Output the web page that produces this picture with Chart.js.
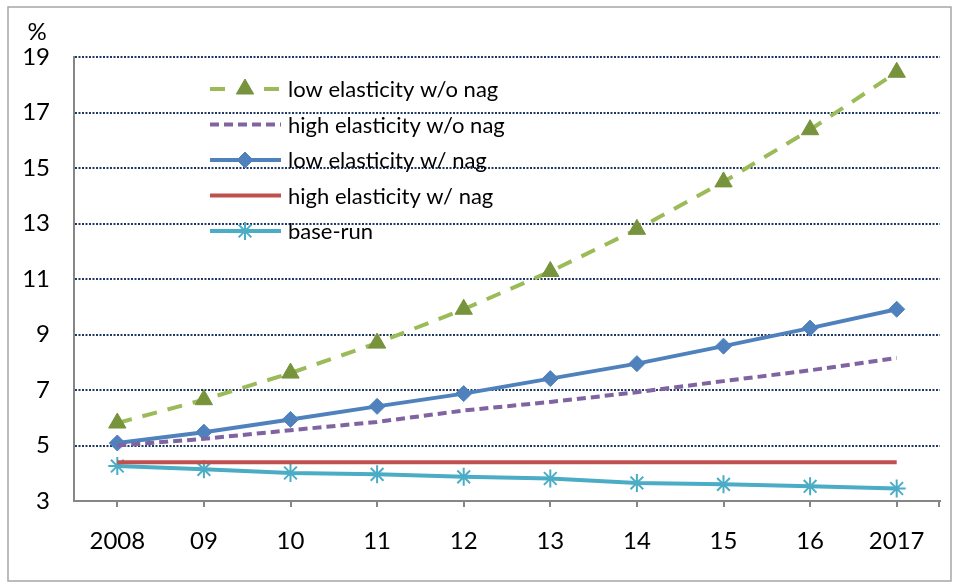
<!DOCTYPE html>
<html>
<head>
<meta charset="utf-8">
<title>Elasticity scenarios 2008-2017</title>
<script src="https://cdn.jsdelivr.net/npm/chart.js"></script>
<style>
  html, body { margin: 0; padding: 0; background: #fff; }
  .chart-box { position: relative; width: 960px; height: 584px; }
</style>
</head>
<body>
<div class="chart-box"><canvas id="elasticityChart"></canvas></div>
<script>
const years = ['2008', '09', '10', '11', '12', '13', '14', '15', '16', '2017'];
const lowElasticityNoNag  = [5.81, 6.65, 7.61, 8.69, 9.91, 11.27, 12.79, 14.50, 16.38, 18.45];
const highElasticityNoNag = [5.00, 5.24, 5.55, 5.85, 6.26, 6.57, 6.92, 7.32, 7.71, 8.15];
const lowElasticityNag    = [5.09, 5.48, 5.94, 6.41, 6.87, 7.41, 7.95, 8.58, 9.23, 9.91];
const highElasticityNag   = [4.40, 4.40, 4.40, 4.40, 4.40, 4.40, 4.40, 4.40, 4.40, 4.40];
const baseRun             = [4.26, 4.14, 4.01, 3.96, 3.87, 3.81, 3.65, 3.60, 3.53, 3.45];
const yMin = 3, yMax = 19, yStep = 2;
const unitLabel = '%';

const FONT = 'Lato, Calibri, "DejaVu Sans", sans-serif';
const AXIS_GRAY = '#868686';

// legend drawn inside the plot area, like the original
const innerLegend = {
  id: 'innerLegend',
  afterDraw(chart) {
    const ctx = chart.ctx;
    const h = Chart.helpers;
    ctx.save();
    ctx.font = '22px ' + FONT;
    ctx.textBaseline = 'middle';
    ctx.fillStyle = '#000';
    chart.data.datasets.forEach((ds, i) => {
      const y = 89 + i * 35.5;
      ctx.save();
      ctx.strokeStyle = ds.borderColor;
      ctx.lineWidth = ds.borderWidth;
      ctx.setLineDash(ds.borderDash || []);
      ctx.beginPath();
      if (ds.legendGap) {
        ctx.moveTo(210, y); ctx.lineTo(226, y);
        ctx.moveTo(264, y); ctx.lineTo(281, y);
      } else {
        ctx.moveTo(210, y); ctx.lineTo(281, y);
      }
      ctx.stroke();
      ctx.restore();
      if (ds.pointRadius > 0) {
        ctx.save();
        ctx.fillStyle = ds.pointBackgroundColor;
        ctx.strokeStyle = ds.pointBorderColor;
        ctx.lineWidth = ds.pointBorderWidth;
        h.drawPoint(ctx, { pointStyle: ds.pointStyle, radius: ds.pointRadius, borderWidth: ds.pointBorderWidth, rotation: 0 }, 245, y);
        ctx.restore();
      }
      ctx.fillText(ds.label, 288, y + 1);
    });
    // unit label above the value axis
    ctx.font = '24px ' + FONT;
    ctx.textAlign = 'center';
    ctx.fillText(unitLabel, 37, 32);
    // closing tick at the right end of the category axis
    const xs = chart.scales.x;
    ctx.strokeStyle = AXIS_GRAY;
    ctx.lineWidth = 2;
    ctx.beginPath();
    ctx.moveTo(xs.right - 1, xs.top);
    ctx.lineTo(xs.right - 1, xs.top + 6);
    ctx.stroke();
    ctx.restore();
  }
};

const pageFrame = {
  id: 'pageFrame',
  beforeDraw(chart) {
    const ctx = chart.ctx;
    ctx.save();
    ctx.fillStyle = '#fff';
    ctx.fillRect(0, 0, chart.width, chart.height);
    ctx.strokeStyle = '#a6a6a6';
    ctx.lineWidth = 1.5;
    ctx.strokeRect(8, 7, 943, 574);
    ctx.restore();
  }
};

const ctx = document.getElementById('elasticityChart');
new Chart(ctx, {
  type: 'line',
  data: {
    labels: years,
    datasets: [
      {
        label: 'low elasticity w/o nag',
        data: lowElasticityNoNag,
        borderColor: '#9bbb59',
        borderWidth: 4,
        borderDash: [15, 11],
        pointStyle: 'triangle',
        pointRadius: 10,
        pointBackgroundColor: '#77933c',
        pointBorderColor: '#77933c',
        pointBorderWidth: 1,
        legendGap: true
      },
      {
        label: 'high elasticity w/o nag',
        data: highElasticityNoNag,
        borderColor: '#8064a2',
        borderWidth: 4,
        borderDash: [9, 5],
        pointRadius: 0
      },
      {
        label: 'low elasticity w/ nag',
        data: lowElasticityNag,
        borderColor: '#4f81bd',
        borderWidth: 4,
        pointStyle: 'rectRot',
        pointRadius: 8,
        pointBackgroundColor: '#4f81bd',
        pointBorderColor: '#4f81bd',
        pointBorderWidth: 1
      },
      {
        label: 'high elasticity w/ nag',
        data: highElasticityNag,
        borderColor: '#c0504d',
        borderWidth: 4,
        pointRadius: 0
      },
      {
        label: 'base-run',
        data: baseRun,
        borderColor: '#4bacc6',
        borderWidth: 4,
        pointStyle: 'star',
        pointRadius: 9,
        pointBackgroundColor: '#4bacc6',
        pointBorderColor: '#4bacc6',
        pointBorderWidth: 2
      }
    ]
  },
  options: {
    responsive: true,
    maintainAspectRatio: false,
    animation: false,
    layout: { padding: { left: 0, right: 20, top: 57, bottom: 0 } },
    elements: { line: { tension: 0, borderCapStyle: 'butt' } },
    plugins: {
      legend: { display: false },
      tooltip: { enabled: false }
    },
    scales: {
      x: {
        offset: true,
        grid: { display: true, offset: false, drawOnChartArea: false, drawTicks: true, tickLength: 6, color: AXIS_GRAY, lineWidth: 2 },
        border: { display: true, color: AXIS_GRAY, width: 2 },
        ticks: { color: '#000', font: { family: FONT, size: 24 }, padding: 20, maxRotation: 0, autoSkip: false },
        afterFit(scale) { scale.height = 83; }
      },
      y: {
        min: yMin,
        max: yMax,
        ticks: { stepSize: yStep, color: '#000', font: { family: FONT, size: 24 }, padding: 24 },
        grid: {
          drawTicks: false,
          lineWidth: 2,
          color: c => c.tick && c.tick.value === yMin ? 'rgba(0,0,0,0)' : '#1f3864'
        },
        // in Chart.js v4 border.dash sets the dash of the grid lines
        border: { display: true, color: AXIS_GRAY, width: 2, dash: [2, 1.5] },
        afterFit(scale) { scale.width = 74; }
      }
    }
  },
  plugins: [pageFrame, innerLegend]
});
</script>
</body>
</html>
